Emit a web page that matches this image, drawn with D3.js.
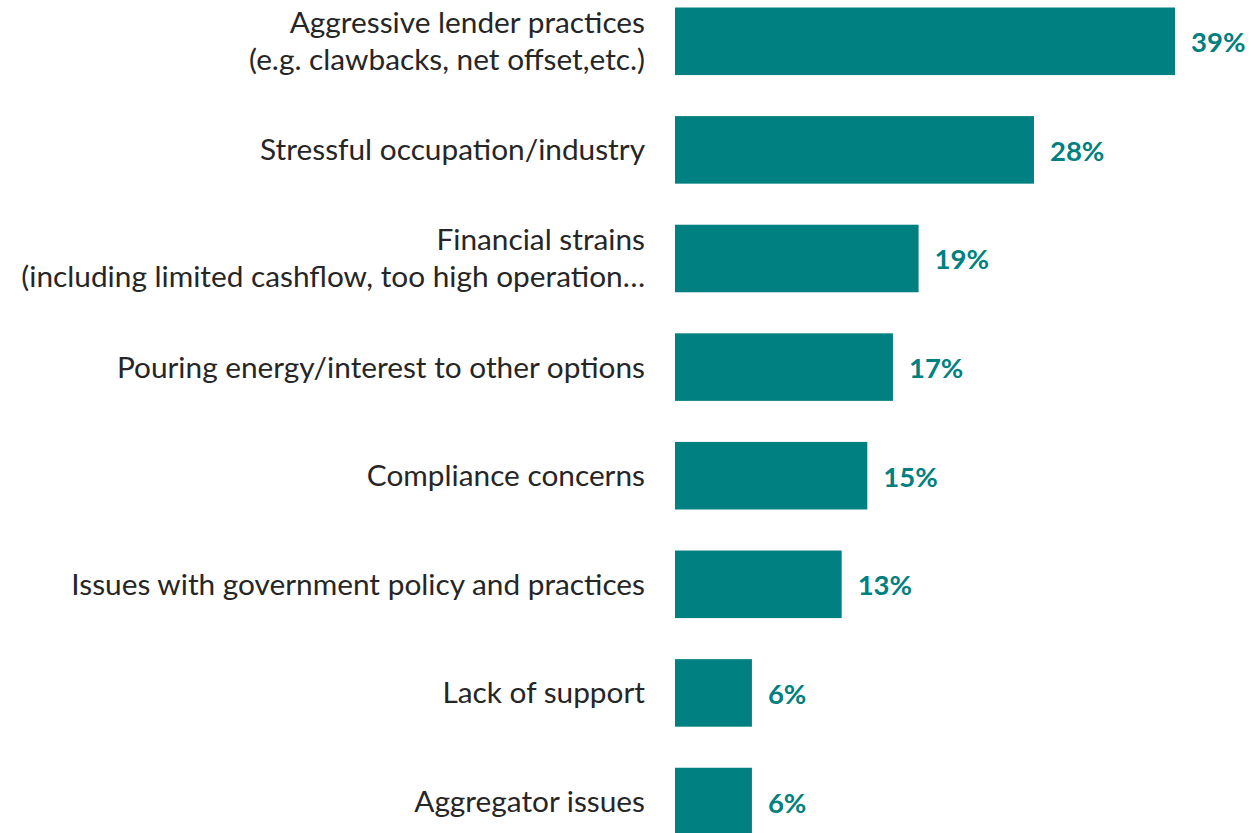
<!DOCTYPE html>
<html>
<head>
<meta charset="utf-8">
<script src="https://cdn.jsdelivr.net/npm/d3@7"></script>
<style>
  html, body { margin: 0; padding: 0; background: #ffffff; }
  svg { display: block; }
</style>
</head>
<body>
<svg id="chart" width="1251" height="833"></svg>
<script>
// Reasons reported, share of respondents (%)
const categories = [
  ["Aggressive lender practices", "(e.g. clawbacks, net offset,etc.)"],
  ["Stressful occupation/industry"],
  ["Financial strains", "(including limited cashflow, too high operation…"],
  ["Pouring energy/interest to other options"],
  ["Compliance concerns"],
  ["Issues with government policy and practices"],
  ["Lack of support"],
  ["Aggregator issues"]
];
const values = [39, 28, 19, 17, 15, 13, 6, 6];
const valueLabels = ["39%", "28%", "19%", "17%", "15%", "13%", "6%", "6%"];

const teal = "#008080";
const svg = d3.select("#chart");

const ids = d3.range(categories.length);

const x = d3.scaleLinear().domain([0, 39]).range([675, 1175]);
const y = d3.scaleBand()
  .domain(ids)
  .range([7.5, 835.3])
  .paddingInner(0.378)
  .paddingOuter(0);

// Bars
svg.append("g")
  .selectAll("rect")
  .data(ids)
  .join("rect")
  .attr("x", x(0))
  .attr("y", i => y(i))
  .attr("width", i => x(values[i]) - x(0))
  .attr("height", y.bandwidth())
  .attr("fill", teal);

// Category labels, right-aligned left of the bars
const lineH = 37;
const labels = svg.append("g")
  .attr("font-family", "Lato, 'Open Sans', sans-serif")
  .attr("font-size", 29.8)
  .attr("fill", "#262626")
  .attr("text-anchor", "end")
  .selectAll("text")
  .data(ids)
  .join("text")
  .attr("x", 645)
  .attr("y", i => y(i) + y.bandwidth() / 2 - 1.5)
  .attr("dominant-baseline", "central");

labels.selectAll("tspan")
  .data(i => categories[i].map((t, k, arr) => ({ t, k, n: arr.length })))
  .join("tspan")
  .attr("x", 645)
  .attr("dy", d => d.k === 0 ? (-(d.n - 1) * lineH / 2) : lineH)
  .text(d => d.t);

// Value labels at the end of each bar
svg.append("g")
  .attr("font-family", "Lato, 'Open Sans', sans-serif")
  .attr("font-size", 27.5)
  .attr("font-weight", "bold")
  .attr("fill", teal)
  .selectAll("text")
  .data(ids)
  .join("text")
  .attr("x", i => x(values[i]) + 16)
  .attr("y", i => y(i) + y.bandwidth() / 2 + 0.5)
  .attr("dominant-baseline", "central")
  .text(i => valueLabels[i]);
</script>
</body>
</html>
